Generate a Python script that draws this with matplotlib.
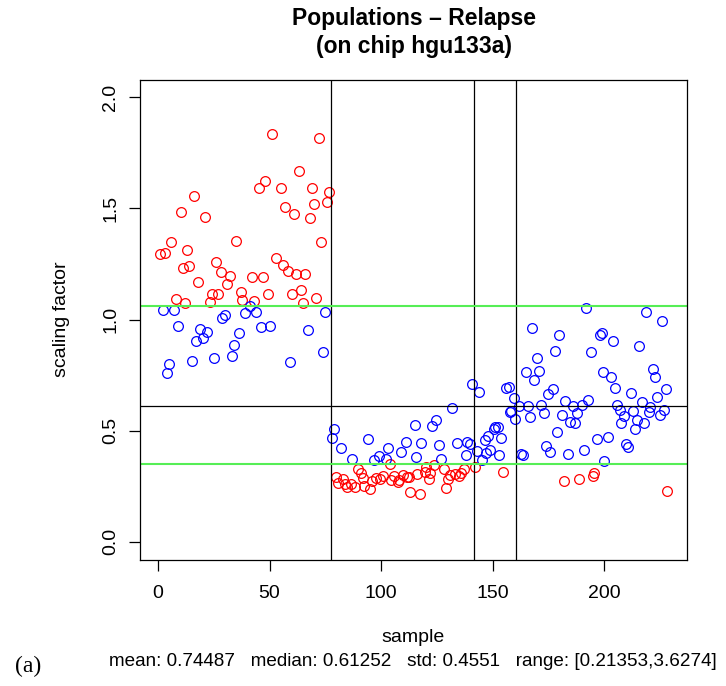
import matplotlib
matplotlib.use("Agg")
import matplotlib.pyplot as plt

plt.rcParams["font.family"] = ["Liberation Sans", "DejaVu Sans"]

# red = relapse-ish group, blue = other group
red_x = [0.9, 3.3, 6.0, 8.0, 10.1, 11.0, 12.1, 12.9, 14.1, 16.1, 18.1, 21.0, 23.1, 24.0,
         26.0, 27.1, 28.2, 30.9, 32.3, 34.9, 37.0, 37.6, 42.1, 43.1, 45.1, 47.1, 47.9,
         49.1, 51.1, 52.9, 55.0, 55.8, 56.9, 58.1, 60.1, 61.0, 62.0, 63.0, 63.9, 65.0,
         66.0, 68.0, 68.8, 70.0, 70.9, 72.0, 72.9, 75.9, 76.7,
         79.8, 80.5, 82.9, 83.6, 84.9, 86.5, 88.1, 89.7, 90.8, 91.8, 92.4, 95.2, 96.1,
         97.7, 99.7, 100.8, 103.8, 104.4, 105.9, 107.4, 108.0, 109.6, 111.8, 112.7,
         113.0, 116.1, 117.6, 119.8, 120.2, 121.3, 121.9, 123.9, 128.2, 128.9, 130.1,
         130.9, 132.9, 134.7, 135.6, 137.0, 141.9, 154.7,
         181.8, 188.8, 194.8, 195.6, 228.0]
red_y = [1.296, 1.300, 1.347, 1.091, 1.483, 1.231, 1.073, 1.314, 1.242, 1.554, 1.167,
         1.459, 1.081, 1.117, 1.257, 1.116, 1.215, 1.162, 1.194, 1.353, 1.123, 1.086,
         1.191, 1.084, 1.593, 1.189, 1.622, 1.114, 1.836, 1.276, 1.592, 1.246, 1.506,
         1.218, 1.113, 1.474, 1.206, 1.668, 1.131, 1.073, 1.204, 1.455, 1.593, 1.518,
         1.099, 1.818, 1.348, 1.528, 1.573,
         0.291, 0.266, 0.284, 0.260, 0.246, 0.260, 0.245, 0.327, 0.309, 0.288, 0.252,
         0.237, 0.275, 0.285, 0.282, 0.296, 0.350, 0.276, 0.297, 0.270, 0.278, 0.302,
         0.290, 0.290, 0.224, 0.305, 0.215, 0.312, 0.338, 0.284, 0.308, 0.347, 0.326,
         0.240, 0.284, 0.299, 0.303, 0.294, 0.309, 0.329, 0.338, 0.314,
         0.275, 0.282, 0.297, 0.311, 0.230]

blue_x = [2.1, 4.2, 5.1, 7.1, 9.1, 15.2, 17.0, 19.0, 20.1, 22.0, 25.0, 28.8, 30.2, 33.0,
          34.0, 36.1, 39.1, 41.0, 43.9, 46.0, 50.0, 59.0, 67.1, 74.0, 75.0,
          77.8, 79.0, 82.0, 86.9, 93.9, 96.8, 99.2, 102.0, 103.1, 108.9, 111.0, 115.0,
          115.8, 117.9, 122.9, 124.8, 125.9, 126.8, 131.9, 134.0, 137.9, 138.7, 139.6,
          140.8, 142.8, 144.0, 145.0, 146.4, 147.1, 148.1, 149.0, 150.4, 151.2, 152.4,
          152.9, 153.8, 156.1, 157.4, 157.6, 158.4, 159.4, 159.9,
          161.9, 162.8, 163.8, 164.9, 165.8, 166.9, 167.8, 168.7, 169.8, 170.7, 171.8,
          173.0, 173.9, 174.7, 175.8, 177.0, 177.7, 178.8, 179.7, 180.9, 182.6, 183.7,
          184.8, 185.8, 187.0, 188.0, 189.8, 190.7, 191.6, 192.9, 193.9, 196.8, 198.1,
          199.0, 199.4, 199.9, 201.7, 202.9, 203.7, 204.8, 205.5, 206.9, 207.7, 208.7,
          209.8, 210.7, 211.8, 212.7, 213.6, 214.7, 215.7, 216.8, 217.8, 218.8, 219.9,
          220.6, 221.7, 222.8, 223.8, 224.8, 225.7, 226.8, 227.8]
blue_y = [1.045, 0.758, 0.799, 1.045, 0.970, 0.814, 0.902, 0.958, 0.916, 0.943, 0.829,
          1.005, 1.021, 0.838, 0.886, 0.940, 1.030, 1.060, 1.033, 0.968, 0.971, 0.808,
          0.953, 0.854, 1.035,
          0.468, 0.506, 0.420, 0.371, 0.464, 0.369, 0.386, 0.372, 0.420, 0.402, 0.449,
          0.526, 0.380, 0.443, 0.519, 0.548, 0.437, 0.372, 0.600, 0.445, 0.389, 0.449,
          0.441, 0.710, 0.407, 0.673, 0.369, 0.458, 0.398, 0.474, 0.413, 0.505, 0.515,
          0.517, 0.391, 0.468, 0.691, 0.695, 0.586, 0.590, 0.649, 0.551,
          0.611, 0.396, 0.391, 0.764, 0.611, 0.563, 0.961, 0.728, 0.827, 0.770, 0.616,
          0.578, 0.432, 0.664, 0.402, 0.685, 0.857, 0.495, 0.931, 0.571, 0.632, 0.396,
          0.539, 0.611, 0.536, 0.581, 0.614, 0.414, 1.051, 0.638, 0.854, 0.461, 0.931,
          0.938, 0.766, 0.362, 0.473, 0.743, 0.905, 0.692, 0.616, 0.595, 0.535, 0.565,
          0.440, 0.425, 0.670, 0.587, 0.505, 0.548, 0.883, 0.629, 0.535, 1.036, 0.586,
          0.607, 0.776, 0.740, 0.653, 0.572, 0.994, 0.595, 0.688]

group_breaks = [77.5, 141.5, 160.5]
median_val = 0.61252
green_lines = [1.0586, 0.351]

x_ticks = [0, 50, 100, 150, 200]
y_ticks = [0.0, 0.5, 1.0, 1.5, 2.0]
stats_text = "mean: 0.74487   median: 0.61252   std: 0.4551   range: [0.21353,3.6274]"


W, H = 726, 686
fig = plt.figure(figsize=(W / 100, H / 100), dpi=100)
ax = fig.add_axes([140 / W, 1 - 559.5 / H, (687 - 140) / W, (559.5 - 79.5) / H])

ax.plot(red_x, red_y, "o", mfc="none", mec="#ff0000", ms=7, mew=0.9)
ax.plot(blue_x, blue_y, "o", mfc="none", mec="#0000ff", ms=7, mew=0.9)

for b in group_breaks:
    ax.axvline(b, color="black", lw=0.9)
ax.axhline(median_val, color="black", lw=0.9)
for g in green_lines:
    ax.axhline(g, color="#55ee55", lw=1.5)

ax.set_xlim(-8.08, 237.08)
ax.set_ylim(-0.08, 2.08)
ax.set_xticks(x_ticks)
ax.set_xticklabels([str(t) for t in x_ticks])
ax.set_yticks(y_ticks)
ax.set_yticklabels(["%.1f" % t for t in y_ticks], rotation=90, va="center")
ax.tick_params(axis="both", direction="out", length=8, width=0.9, labelsize=14)
ax.tick_params(axis="x", pad=10)
ax.tick_params(axis="y", pad=7)
for s in ax.spines.values():
    s.set_linewidth(0.9)

fig.text(413.5 / W, 1 - 18 / H, "Populations – Relapse", ha="center", va="center",
         fontsize=16.5, fontweight="bold")
fig.text(413.5 / W, 1 - 46 / H, "(on chip hgu133a)", ha="center", va="center",
         fontsize=16.5, fontweight="bold")
fig.text(62 / W, 1 - 319.5 / H, "scaling factor", rotation=90, ha="center", va="center",
         fontsize=14)
fig.text(413.5 / W, 1 - 637 / H, "sample", ha="center", va="center", fontsize=14)
fig.text(413 / W, 1 - 662 / H, stats_text, ha="center", va="center", fontsize=13.6)
fig.text(28 / W, 1 - 666 / H, "(a)", ha="center", va="center", fontsize=17,
         family=["Liberation Serif", "DejaVu Serif"])

fig.savefig("out.png", dpi=100)
